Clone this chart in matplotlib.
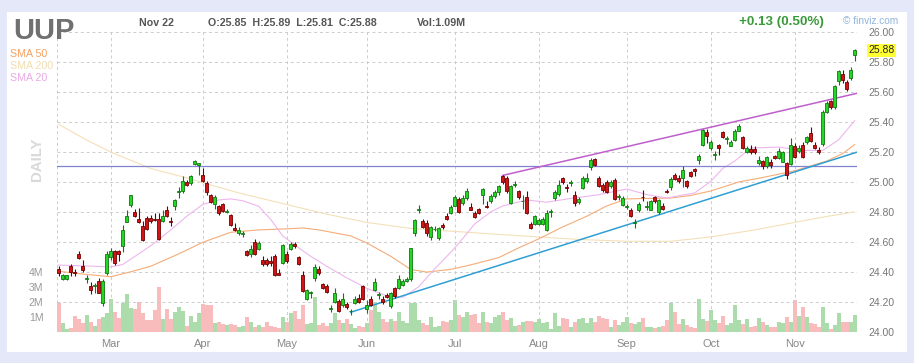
import matplotlib.pyplot as plt
from matplotlib.patches import Rectangle

plt.rcParams['font.family'] = ['Liberation Sans', 'DejaVu Sans']

# daily candles, Feb 9 .. Nov 22 (index 0..199)
opens = [
    24.42, 24.353, 24.353, 24.442, 24.402, 24.516, 24.438, 24.355, 24.302, 24.305,
    24.34, 24.193, 24.393, 24.50, 24.536, 24.538, 24.571, 24.736, 24.849, 24.802,
    24.756, 24.704, 24.76, 24.762, 24.756, 24.756, 24.74, 24.816, 24.742, 24.838,
    24.936, 24.938, 25.002, 24.993, 25.12, 25.113, 25.047, 24.993, 24.913, 24.853,
    24.838, 24.853, 24.798, 24.78, 24.696, 24.66, 24.655, 24.538, 24.522, 24.602,
    24.553, 24.482, 24.482, 24.471, 24.504, 24.393, 24.456, 24.522, 24.553, 24.584,
    24.50, 24.382, 24.22, 24.26, 24.36, 24.416, 24.318, 24.304, 24.152, 24.198,
    24.204, 24.176, 24.184, 24.136, 24.193, 24.224, 24.304, 24.153, 24.22, 24.278,
    24.244, 24.216, 24.244, 24.171, 24.293, 24.293, 24.313, 24.336, 24.349, 24.656,
    24.813, 24.742, 24.727, 24.633, 24.684, 24.627, 24.716, 24.776, 24.793, 24.842,
    24.887, 24.86, 24.893, 24.833, 24.793, 24.82, 24.913, 24.842, 24.871, 24.909,
    24.931, 25.042, 25.024, 24.86, 24.98, 24.94, 24.87, 24.90, 24.722, 24.722,
    24.722, 24.722, 24.678, 24.80, 24.896, 24.92, 25.027, 24.962, 24.993, 24.913,
    24.864, 24.96, 25.004, 25.10, 25.153, 25.027, 24.982, 24.998, 24.971, 25.011,
    24.90, 24.849, 24.836, 24.816, 24.725, 24.816, 24.90, 24.836, 24.816, 24.90,
    24.798, 24.838, 24.942, 24.967, 25.049, 25.027, 25.027, 25.004, 25.064, 25.087,
    25.144, 25.247, 25.331, 25.227, 25.18, 25.247, 25.331, 25.286, 25.242, 25.282,
    25.344, 25.30, 25.202, 25.222, 25.222, 25.127, 25.138, 25.104, 25.131, 25.171,
    25.16, 25.136, 25.127, 25.122, 25.242, 25.204, 25.249, 25.264, 25.327, 25.249,
    25.211, 25.251, 25.469, 25.544, 25.50, 25.678, 25.722, 25.671, 25.693, 25.85,
]
highs = [
    24.44, 24.384, 24.38, 24.455, 24.416, 24.54, 24.478, 24.378, 24.331, 24.327,
    24.36, 24.349, 24.538, 24.562, 24.549, 24.549, 24.716, 24.816, 24.916, 24.82,
    24.824, 24.738, 24.771, 24.782, 24.793, 24.793, 24.816, 24.838, 24.767, 24.887,
    24.967, 25.038, 25.016, 25.049, 25.149, 25.127, 25.093, 25.004, 24.922, 24.916,
    24.849, 24.86, 24.822, 24.787, 24.727, 24.70, 24.671, 24.549, 24.576, 24.62,
    24.604, 24.504, 24.493, 24.504, 24.522, 24.416, 24.587, 24.538, 24.598, 24.598,
    24.504, 24.404, 24.282, 24.271, 24.449, 24.438, 24.327, 24.316, 24.176, 24.291,
    24.216, 24.26, 24.198, 24.153, 24.238, 24.249, 24.313, 24.211, 24.238, 24.362,
    24.264, 24.238, 24.26, 24.264, 24.30, 24.376, 24.349, 24.367, 24.562, 24.753,
    24.849, 24.753, 24.744, 24.704, 24.704, 24.70, 24.727, 24.793, 24.849, 24.913,
    24.90, 24.916, 24.96, 24.86, 24.804, 24.827, 24.96, 24.871, 24.922, 24.949,
    24.982, 25.049, 25.038, 24.982, 25.004, 24.949, 24.916, 24.938, 24.731, 24.782,
    24.76, 24.767, 24.811, 24.82, 24.949, 25.016, 25.033, 24.989, 25.011, 24.938,
    24.90, 25.038, 25.06, 25.16, 25.16, 25.042, 24.993, 25.016, 25.011, 25.027,
    24.922, 24.909, 24.856, 24.827, 24.753, 24.864, 24.944, 24.871, 24.882, 24.909,
    24.887, 24.86, 24.953, 25.033, 25.06, 25.049, 25.104, 25.016, 25.071, 25.091,
    25.189, 25.353, 25.353, 25.282, 25.204, 25.256, 25.344, 25.304, 25.282, 25.353,
    25.389, 25.309, 25.238, 25.249, 25.242, 25.171, 25.149, 25.176, 25.153, 25.182,
    25.227, 25.204, 25.131, 25.293, 25.26, 25.249, 25.264, 25.309, 25.367, 25.264,
    25.233, 25.478, 25.538, 25.549, 25.649, 25.749, 25.749, 25.682, 25.767, 25.89,
]
lows = [
    24.37, 24.344, 24.345, 24.371, 24.371, 24.487, 24.398, 24.322, 24.253, 24.26,
    24.256, 24.171, 24.382, 24.482, 24.447, 24.471, 24.531, 24.731, 24.833, 24.767,
    24.727, 24.607, 24.682, 24.727, 24.738, 24.611, 24.731, 24.767, 24.709, 24.816,
    24.893, 24.927, 24.971, 24.982, 25.116, 25.049, 24.998, 24.916, 24.86, 24.82,
    24.782, 24.802, 24.793, 24.709, 24.673, 24.649, 24.633, 24.504, 24.50, 24.513,
    24.544, 24.438, 24.442, 24.438, 24.373, 24.376, 24.449, 24.46, 24.549, 24.56,
    24.447, 24.264, 24.211, 24.227, 24.338, 24.382, 24.287, 24.256, 24.131, 24.193,
    24.131, 24.167, 24.149, 24.113, 24.182, 24.189, 24.211, 24.122, 24.171, 24.271,
    24.216, 24.182, 24.227, 24.16, 24.227, 24.287, 24.304, 24.331, 24.338, 24.638,
    24.793, 24.691, 24.642, 24.611, 24.671, 24.611, 24.687, 24.744, 24.789, 24.838,
    24.793, 24.849, 24.88, 24.811, 24.758, 24.784, 24.851, 24.827, 24.86, 24.893,
    24.916, 24.989, 24.927, 24.856, 24.967, 24.887, 24.82, 24.789, 24.689, 24.716,
    24.716, 24.713, 24.671, 24.767, 24.882, 24.909, 24.989, 24.931, 24.976, 24.842,
    24.856, 24.953, 24.993, 25.078, 25.104, 24.967, 24.931, 24.927, 24.96, 24.878,
    24.878, 24.842, 24.82, 24.767, 24.693, 24.798, 24.871, 24.811, 24.811, 24.86,
    24.789, 24.811, 24.927, 24.949, 25.011, 24.993, 24.967, 24.96, 25.033, 25.042,
    25.122, 25.238, 25.26, 25.216, 25.144, 25.182, 25.291, 25.256, 25.238, 25.271,
    25.338, 25.22, 25.193, 25.189, 25.187, 25.116, 25.087, 25.093, 25.093, 25.153,
    25.153, 25.131, 25.02, 25.116, 25.158, 25.193, 25.158, 25.256, 25.264, 25.22,
    25.184, 25.238, 25.46, 25.487, 25.487, 25.649, 25.66, 25.611, 25.682, 25.81,
]
closes = [
    24.39, 24.378, 24.376, 24.398, 24.393, 24.493, 24.411, 24.36, 24.278, 24.307,
    24.26, 24.34, 24.522, 24.54, 24.456, 24.516, 24.682, 24.776, 24.913, 24.771,
    24.733, 24.611, 24.689, 24.74, 24.744, 24.616, 24.776, 24.776, 24.733, 24.882,
    24.94, 25.009, 24.982, 25.038, 25.142, 25.127, 25.004, 24.931, 24.869, 24.90,
    24.793, 24.809, 24.809, 24.713, 24.682, 24.678, 24.656, 24.511, 24.553, 24.522,
    24.593, 24.449, 24.449, 24.456, 24.378, 24.382, 24.58, 24.469, 24.584, 24.571,
    24.451, 24.271, 24.276, 24.262, 24.433, 24.389, 24.293, 24.264, 24.155, 24.26,
    24.138, 24.22, 24.162, 24.138, 24.22, 24.198, 24.216, 24.18, 24.18, 24.331,
    24.246, 24.198, 24.233, 24.256, 24.238, 24.349, 24.336, 24.353, 24.556, 24.744,
    24.816, 24.70, 24.656, 24.698, 24.687, 24.693, 24.698, 24.756, 24.833, 24.90,
    24.798, 24.893, 24.942, 24.816, 24.767, 24.793, 24.953, 24.833, 24.904, 24.936,
    24.976, 24.998, 24.938, 24.976, 24.984, 24.898, 24.872, 24.793, 24.696, 24.776,
    24.744, 24.753, 24.793, 24.804, 24.936, 24.982, 24.998, 24.96, 24.996, 24.86,
    24.887, 25.027, 25.027, 25.149, 25.116, 24.971, 24.944, 24.931, 25.002, 24.887,
    24.904, 24.893, 24.838, 24.776, 24.727, 24.856, 24.898, 24.838, 24.871, 24.871,
    24.878, 24.82, 24.936, 25.02, 25.02, 25.004, 25.082, 24.976, 25.042, 25.076,
    25.171, 25.349, 25.309, 25.264, 25.182, 25.224, 25.30, 25.289, 25.269, 25.342,
    25.371, 25.227, 25.227, 25.198, 25.202, 25.149, 25.109, 25.167, 25.116, 25.16,
    25.204, 25.198, 25.049, 25.249, 25.164, 25.227, 25.164, 25.30, 25.271, 25.224,
    25.198, 25.469, 25.527, 25.50, 25.642, 25.74, 25.682, 25.62, 25.749, 25.88,
]
# volume, millions
volumes = [
    1.93, 0.56, 0.16, 0.22, 1.04, 0.82, 0.56, 1.10, 0.67, 0.38,
    0.82, 1.00, 1.27, 2.16, 1.33, 0.89, 1.93, 2.51, 1.56, 1.49,
    2.00, 1.22, 0.78, 0.78, 1.44, 3.00, 0.82, 1.49, 0.82, 1.33,
    1.62, 1.40, 0.38, 1.04, 0.67, 1.27, 1.84, 1.78, 1.76, 0.60,
    0.67, 0.51, 0.44, 0.51, 0.44, 0.33, 0.38, 0.96, 0.67, 0.33,
    0.44, 0.29, 0.67, 0.38, 0.29, 0.22, 1.00, 0.67, 1.22, 1.40,
    0.82, 1.78, 0.51, 0.60, 2.33, 0.44, 0.60, 0.38, 0.56, 1.22,
    0.78, 0.56, 0.82, 0.51, 0.22, 0.38, 0.33, 0.56, 1.44, 2.00,
    1.33, 0.82, 0.67, 0.82, 0.73, 1.33, 0.73, 0.60, 1.89, 1.93,
    0.78, 0.56, 0.44, 0.96, 0.33, 0.38, 0.73, 0.67, 0.78, 2.12,
    1.10, 1.00, 1.33, 1.10, 1.18, 0.56, 1.33, 0.67, 0.60, 1.00,
    1.10, 1.33, 0.78, 0.89, 0.38, 0.44, 0.67, 0.73, 0.73, 0.67,
    0.82, 0.60, 0.67, 0.16, 1.22, 0.38, 0.89, 0.82, 0.33, 0.67,
    0.82, 0.89, 0.56, 0.89, 0.67, 1.04, 0.89, 0.82, 0.33, 0.78,
    0.44, 0.67, 1.00, 0.60, 0.51, 0.67, 0.89, 0.29, 0.33, 0.22,
    0.33, 0.38, 0.78, 1.93, 1.33, 0.51, 0.82, 0.44, 0.33, 0.22,
    2.16, 0.82, 0.73, 1.44, 0.78, 0.56, 1.04, 0.44, 0.56, 1.78,
    0.78, 0.51, 0.82, 0.33, 0.38, 0.89, 0.67, 0.44, 0.29, 0.29,
    0.67, 0.60, 1.00, 0.67, 2.10, 1.04, 1.62, 0.96, 0.56, 0.51,
    0.29, 1.62, 0.56, 0.16, 0.44, 1.27, 0.67, 0.67, 0.67, 1.09,
]

month_labels = ['Mar', 'Apr', 'May', 'Jun', 'Jul', 'Aug', 'Sep', 'Oct', 'Nov']
month_starts = [13, 36, 57, 77, 99, 120, 142, 163, 184]
price_ticks = [24.0, 24.2, 24.4, 24.6, 24.8, 25.0, 25.2, 25.4, 25.6, 25.8, 26.0]
vol_ticks = [1, 2, 3, 4]

# moving averages (index, value)
sma20_idx = [0, 6, 13, 16, 20, 24, 28, 32, 36, 40, 43, 46, 50, 53, 56, 60, 63, 67,
             72, 77, 82, 86, 90, 94, 98, 100, 104, 108, 111, 117, 122, 128, 135,
             142, 147, 152, 159, 163, 166, 169, 173, 180, 186, 191, 195, 199]
sma20_val = [24.445, 24.44, 24.433, 24.449, 24.52, 24.593, 24.68, 24.771, 24.85,
             24.88, 24.887, 24.875, 24.838, 24.75, 24.64, 24.56, 24.504, 24.437,
             24.36, 24.29, 24.24, 24.23, 24.30, 24.42, 24.53, 24.59, 24.72, 24.80,
             24.84, 24.88, 24.865, 24.89, 24.915, 24.953, 24.916, 24.893, 24.927,
             25.004, 25.09, 25.14, 25.227, 25.233, 25.211, 25.211, 25.282, 25.41]
sma50_idx = [0, 6, 13, 18, 23, 30, 36, 43, 50, 57, 61, 65, 69, 73, 77, 83, 88, 92,
             98, 102, 105, 110, 115, 120, 126, 132, 137, 142, 147, 153, 158, 163,
             170, 176, 184, 192, 196, 199]
sma50_val = [24.404, 24.385, 24.367, 24.40, 24.437, 24.52, 24.597, 24.664, 24.68,
             24.687, 24.693, 24.68, 24.66, 24.64, 24.593, 24.504, 24.416, 24.398,
             24.416, 24.44, 24.46, 24.495, 24.56, 24.62, 24.70, 24.771, 24.84,
             24.887, 24.89, 24.893, 24.91, 24.94, 25.00, 25.03, 25.075, 25.14,
             25.19, 25.25]
sma200_idx = [0, 7, 13, 23, 31, 36, 46, 57, 67, 77, 88, 99, 110, 120, 131, 142,
              153, 163, 174, 184, 192, 199]
sma200_val = [25.385, 25.28, 25.20, 25.09, 25.035, 24.995, 24.92, 24.85, 24.785,
              24.73, 24.69, 24.67, 24.65, 24.633, 24.615, 24.604, 24.604, 24.633,
              24.68, 24.73, 24.77, 24.80]

# drawn lines
resistance = 25.107
support_x, support_y = [73, 199.65], [24.13, 25.20]
channel_x, channel_y = [111, 199.65], [25.044, 25.593]

W, H = 914, 363
fig = plt.figure(figsize=(W / 100, H / 100), dpi=100, facecolor='#e5e8f8')
fig.patches.append(Rectangle((7 / W, 11 / H), 900 / W, 340 / H, transform=fig.transFigure,
                             facecolor='white', edgecolor='none', zorder=-1))

rect = [57.3 / W, 31.3 / H, 800 / W, 299.4 / H]
xlim = (-0.35, 199.65)
n = len(closes)
xs = list(range(n))
up = [c >= o for o, c in zip(opens, closes)]

# volume panel sharing the price area
axv = fig.add_axes(rect, zorder=1)
axv.set_facecolor('none')
axv.bar(xs, volumes, width=0.9,
        color=['#acdcac' if u else '#f9bcbc' for u in up], linewidth=0)
axv.set_xlim(*xlim)
axv.set_ylim(0, 299.4 / 15)
axv.set_yticks(vol_ticks, [f'{v}M' for v in vol_ticks])
axv.tick_params(axis='y', length=0, pad=10, labelsize=7.5, labelcolor='#999999')
axv.set_xticks([])
for s in axv.spines.values():
    s.set_visible(False)

ax = fig.add_axes(rect, zorder=3)
ax.set_facecolor('none')
ax.set_xlim(*xlim)
ax.set_ylim(24.0, 26.0)
ax.yaxis.tick_right()
ax.set_yticks(price_ticks, [f'{v:.2f}' for v in price_ticks])
ax.set_xticks(month_starts, month_labels)
ax.tick_params(axis='y', length=0, pad=8, labelsize=7.5, labelcolor='#777777')
ax.tick_params(axis='x', length=0, pad=5, labelsize=8, labelcolor='#888888')
ax.grid(True, color='#cccccc', linestyle=(0, (3, 3)), linewidth=0.7)
for s in ax.spines.values():
    s.set_visible(False)
for xb in xlim:
    ax.axvline(xb, color='#cccccc', linestyle=(0, (3, 3)), linewidth=0.7)

ax.plot(sma200_idx, sma200_val, color='#f4e0b8', lw=0.8, zorder=2)
ax.plot(sma50_idx, sma50_val, color='#f5ac78', lw=0.8, zorder=2)
ax.plot(sma20_idx, sma20_val, color='#eeb6ee', lw=0.8, zorder=2)
ax.axhline(resistance, color='#8282d2', lw=0.9, zorder=2)
ax.plot(support_x, support_y, color='#2f9fd4', lw=1.1, zorder=2)
ax.plot(channel_x, channel_y, color='#bf5fcc', lw=1.1, zorder=2)

# candles
for i in xs:
    o, h, l, c = opens[i], highs[i], lows[i], closes[i]
    face = '#22d822' if up[i] else '#d41414'
    edge = '#137513' if up[i] else '#700000'
    ax.vlines(i, l, h, color=edge, lw=0.8, zorder=4)
    ax.bar(i, max(abs(c - o), 0.005), bottom=min(o, c), width=0.72,
           color=face, edgecolor=edge, linewidth=0.6, zorder=5)

# last price tag
ax.annotate(f'{closes[-1]:.2f}', xy=(1, closes[-1]), xycoords=('axes fraction', 'data'),
            xytext=(8, 0), textcoords='offset points', va='center', ha='left',
            fontsize=7.5, color='#222222',
            bbox=dict(boxstyle='square,pad=0.15', facecolor='#ffff33', edgecolor='none'))


def px(x, y):
    return x / W, 1 - y / H


fig.text(*px(13, 39), 'UUP', fontsize=21, fontweight='bold', color='#707070', va='baseline')
fig.text(*px(139, 22.5), 'Nov 22', fontsize=7.7, fontweight='bold', color='#555555', va='center')
fig.text(*px(208, 22.5), 'O:25.85  H:25.89  L:25.81  C:25.88', fontsize=7.7,
         fontweight='bold', color='#555555', va='center')
fig.text(*px(417, 22.5), 'Vol:1.09M', fontsize=7.7, fontweight='bold', color='#555555', va='center')
fig.text(*px(739, 22), '+0.13 (0.50%)', fontsize=9.7, fontweight='bold', color='#3a9a3a', va='center')
fig.text(*px(843, 20.5), '\u00a9 finviz.com', fontsize=7.3, color='#8fb4dc', va='center')
fig.text(*px(10, 54), 'SMA 50', fontsize=7.7, color='#f4a060', va='center')
fig.text(*px(10, 66), 'SMA 200', fontsize=7.7, color='#f0dcae', va='center')
fig.text(*px(10, 78), 'SMA 20', fontsize=7.7, color='#eaa8e4', va='center')
fig.text(*px(37.5, 159.5), 'DAILY', fontsize=10.8, fontweight='bold', color='#d9d9d9',
         rotation=90, ha='center', va='center')

fig.savefig('out.png', dpi=100, facecolor=fig.get_facecolor())
